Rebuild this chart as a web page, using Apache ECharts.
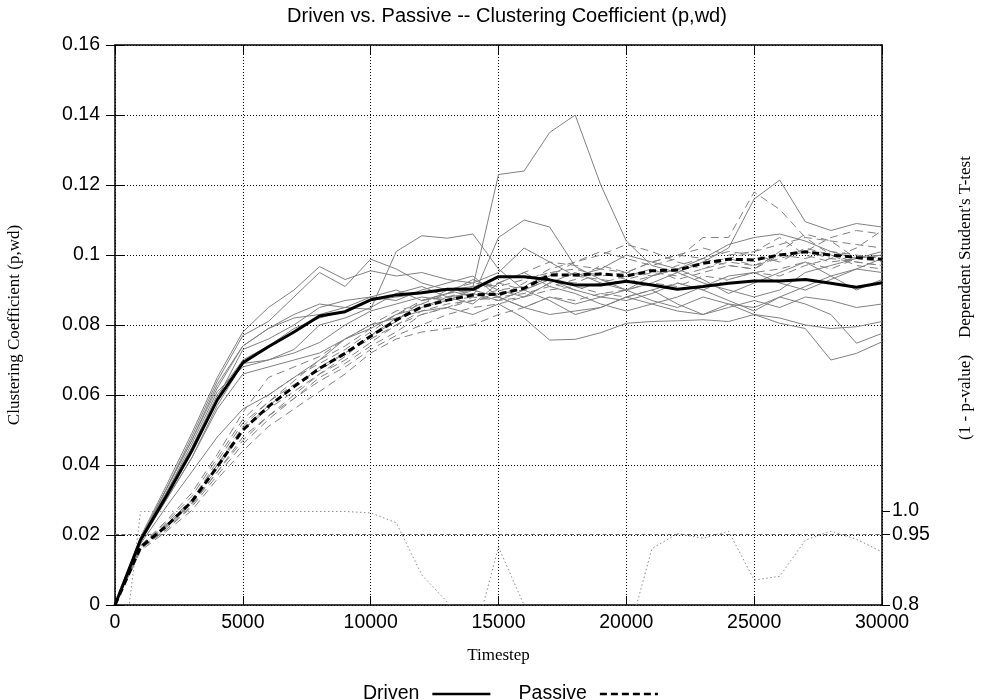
<!DOCTYPE html>
<html>
<head>
<meta charset="utf-8">
<script src="https://cdn.jsdelivr.net/npm/echarts@6/dist/echarts.min.js"></script>
<style>html,body{margin:0;padding:0;background:#fff;}#c{width:981px;height:700px;}</style>
</head>
<body>
<div id="c"></div>
<script>
const timesteps = [0,1000,2000,3000,4000,5000,6000,7000,8000,9000,10000,11000,12000,13000,14000,15000,16000,17000,18000,19000,20000,21000,22000,23000,24000,25000,26000,27000,28000,29000,30000];

const drivenMean  = [0,0.0186,0.0310,0.0440,0.0586,0.0692,0.0738,0.0780,0.0826,0.0838,0.0872,0.0886,0.0892,0.0902,0.0902,0.0938,0.0938,0.0929,0.0914,0.0914,0.0925,0.0914,0.0902,0.0910,0.0919,0.0926,0.0926,0.0930,0.0919,0.0908,0.0921];
const passiveMean = [0,0.0165,0.0225,0.0295,0.0395,0.0500,0.0567,0.0624,0.0676,0.0719,0.0768,0.0814,0.0852,0.0871,0.0886,0.0888,0.0905,0.0943,0.0943,0.0946,0.0940,0.0955,0.0957,0.0976,0.0988,0.0986,0.1000,0.1009,0.1000,0.0993,0.0988];
const pValue      = [0.55,0.999,0.999,0.999,0.999,0.999,0.999,0.999,0.999,0.999,0.996,0.975,0.864,0.806,0.72,0.923,0.80,0.60,0.45,0.50,0.72,0.92,0.952,0.942,0.957,0.853,0.861,0.938,0.957,0.940,0.913];
const threshold = 0.95;

const drivenRun1  = [0,0.0190,0.0320,0.0450,0.0600,0.0700,0.0740,0.0790,0.0820,0.0840,0.0870,0.0880,0.0890,0.0900,0.0910,0.1230,0.1240,0.1350,0.1400,0.1200,0.1040,0.0970,0.0950,0.0920,0.0900,0.0880,0.0900,0.0950,0.0970,0.0990,0.1010];
const drivenRun2  = [0,0.0190,0.0330,0.0470,0.0630,0.0740,0.0790,0.0830,0.0860,0.0850,0.0845,0.1010,0.1055,0.1048,0.1060,0.0960,0.0900,0.0870,0.0830,0.0850,0.0880,0.0860,0.0840,0.0830,0.0860,0.0850,0.0880,0.0910,0.0940,0.0900,0.0930];
const drivenRun3  = [0,0.0195,0.0340,0.0490,0.0650,0.0780,0.0850,0.0900,0.0967,0.0930,0.0955,0.0940,0.0950,0.0930,0.0920,0.0950,0.1020,0.0980,0.0940,0.0960,0.1000,0.0980,0.0960,0.0990,0.1030,0.1050,0.1060,0.1040,0.1010,0.0990,0.1000];
const drivenRun4  = [0,0.0190,0.0330,0.0480,0.0640,0.0770,0.0810,0.0880,0.0950,0.0910,0.0988,0.0960,0.0920,0.0900,0.0880,0.1050,0.1100,0.1080,0.0967,0.0930,0.0900,0.0920,0.0950,0.0980,0.1020,0.1160,0.1214,0.1095,0.1070,0.1090,0.1080];
const drivenRun5  = [0,0.0185,0.0310,0.0440,0.0590,0.0730,0.0760,0.0800,0.0850,0.0870,0.0880,0.0900,0.0870,0.0890,0.0930,0.0900,0.0880,0.0920,0.0950,0.0920,0.0900,0.0940,0.0960,0.0930,0.0890,0.0920,0.0950,0.0980,0.0940,0.0960,0.0950];
const drivenRun6  = [0,0.0185,0.0300,0.0420,0.0570,0.0690,0.0700,0.0720,0.0750,0.0800,0.0840,0.0860,0.0880,0.0870,0.0900,0.0880,0.0850,0.0880,0.0860,0.0880,0.0900,0.0870,0.0850,0.0880,0.0860,0.0830,0.0805,0.0790,0.0700,0.0719,0.0752];
const drivenRun7  = [0,0.0180,0.0300,0.0420,0.0560,0.0660,0.0680,0.0700,0.0720,0.0760,0.0800,0.0820,0.0840,0.0850,0.0830,0.0860,0.0820,0.0757,0.0759,0.0778,0.0805,0.0810,0.0812,0.0815,0.0810,0.0830,0.0820,0.0800,0.0790,0.0795,0.0810];
const drivenRun8  = [0,0.0175,0.0280,0.0380,0.0480,0.0560,0.0600,0.0650,0.0700,0.0760,0.0790,0.0830,0.0850,0.0880,0.0890,0.0870,0.0900,0.0930,0.0900,0.0880,0.0870,0.0890,0.0920,0.0900,0.0870,0.0840,0.0880,0.0860,0.0830,0.0748,0.0776];
const drivenRun9  = [0,0.0188,0.0320,0.0460,0.0610,0.0680,0.0700,0.0730,0.0800,0.0820,0.0850,0.0890,0.0910,0.0880,0.0860,0.0920,0.0950,0.0910,0.0890,0.0860,0.0840,0.0860,0.0880,0.0910,0.0940,0.0950,0.0920,0.0900,0.0930,0.0960,0.0990];
const drivenRun10 = [0,0.0190,0.0330,0.0470,0.0620,0.0740,0.0790,0.0820,0.0830,0.0850,0.0880,0.0870,0.0900,0.0920,0.0940,0.0880,0.0850,0.0830,0.0840,0.0850,0.0880,0.0900,0.0860,0.0830,0.0850,0.0870,0.0850,0.0880,0.0870,0.0850,0.0860];

const passiveRun1  = [0,0.0170,0.0240,0.0320,0.0430,0.0550,0.0650,0.0680,0.0710,0.0760,0.0800,0.0840,0.0860,0.0900,0.0920,0.0910,0.0930,0.0950,0.0960,0.0940,0.0950,0.0980,0.1000,0.1020,0.1000,0.1010,0.1030,0.1050,0.1040,0.1030,0.1020];
const passiveRun2  = [0,0.0165,0.0230,0.0300,0.0400,0.0510,0.0580,0.0640,0.0700,0.0740,0.0790,0.0830,0.0870,0.0880,0.0900,0.0880,0.0920,0.0960,0.0980,0.1010,0.0990,0.0970,0.0990,0.1050,0.1050,0.1180,0.1130,0.1050,0.1000,0.0980,0.0970];
const passiveRun3  = [0,0.0160,0.0220,0.0290,0.0380,0.0480,0.0540,0.0600,0.0660,0.0700,0.0750,0.0800,0.0840,0.0860,0.0870,0.0890,0.0900,0.0930,0.0920,0.0950,0.0930,0.0950,0.0940,0.0960,0.0980,0.0970,0.0990,0.1010,0.1050,0.1070,0.1060];
const passiveRun4  = [0,0.0160,0.0215,0.0280,0.0370,0.0460,0.0530,0.0590,0.0650,0.0690,0.0740,0.0780,0.0830,0.0850,0.0880,0.0870,0.0880,0.0920,0.0900,0.0920,0.0940,0.0960,0.0930,0.0950,0.0970,0.0960,0.1000,0.0990,0.1010,0.1000,0.0990];
const passiveRun5  = [0,0.0165,0.0225,0.0290,0.0390,0.0500,0.0560,0.0610,0.0660,0.0710,0.0770,0.0820,0.0850,0.0870,0.0880,0.0900,0.0910,0.0950,0.0940,0.0930,0.0920,0.0940,0.0960,0.0980,0.0990,0.0970,0.1000,0.1010,0.0990,0.0980,0.0970];
const passiveRun6  = [0,0.0155,0.0210,0.0270,0.0360,0.0440,0.0510,0.0560,0.0610,0.0660,0.0720,0.0760,0.0780,0.0790,0.0800,0.0830,0.0850,0.0880,0.0870,0.0890,0.0900,0.0920,0.0910,0.0940,0.0930,0.0950,0.0960,0.0980,0.0960,0.0990,0.1000];
const passiveRun7  = [0,0.0170,0.0235,0.0310,0.0420,0.0530,0.0600,0.0650,0.0690,0.0730,0.0780,0.0830,0.0860,0.0890,0.0910,0.0920,0.0900,0.0940,0.0980,0.1000,0.1030,0.1010,0.0980,0.0960,0.0990,0.1010,0.1050,0.1000,0.0980,0.0990,0.1000];
const passiveRun8  = [0,0.0160,0.0215,0.0285,0.0380,0.0470,0.0540,0.0590,0.0640,0.0680,0.0730,0.0770,0.0800,0.0830,0.0850,0.0860,0.0880,0.0900,0.0910,0.0890,0.0880,0.0900,0.0920,0.0900,0.0930,0.0950,0.0940,0.0970,0.0990,0.1020,0.1070];
const passiveRun9  = [0,0.0168,0.0230,0.0300,0.0410,0.0520,0.0580,0.0630,0.0670,0.0720,0.0770,0.0810,0.0870,0.0890,0.0900,0.0920,0.0950,0.0980,0.0970,0.0960,0.0950,0.0940,0.0970,0.0990,0.1010,0.1000,0.0980,0.1020,0.1000,0.0970,0.0960];
const passiveRun10 = [0,0.0165,0.0225,0.0295,0.0400,0.0500,0.0570,0.0620,0.0680,0.0720,0.0760,0.0800,0.0830,0.0850,0.0870,0.0880,0.0890,0.0910,0.0930,0.0970,0.0950,0.0980,0.1000,0.0990,0.0970,0.0960,0.1010,0.1060,0.1040,0.0990,0.0980];

const drivenRuns = [drivenRun1,drivenRun2,drivenRun3,drivenRun4,drivenRun5,drivenRun6,drivenRun7,drivenRun8,drivenRun9,drivenRun10];
const passiveRuns = [passiveRun1,passiveRun2,passiveRun3,passiveRun4,passiveRun5,passiveRun6,passiveRun7,passiveRun8,passiveRun9,passiveRun10];

const pLabelValues = [0.8, 0.95, 1.0];
const pLabelTexts = ['0.8', '0.95', '1.0'];

function pairs(arr){ return timesteps.map((t,i)=>[t,arr[i]]); }

const SANS = 'Liberation Sans, Arial, sans-serif';
const SERIF = 'Liberation Serif, Times New Roman, serif';

const series = [];
drivenRuns.forEach((r,k)=>series.push({
  name:'Driven run '+(k+1), type:'line', data:pairs(r), symbol:'none', silent:true,
  color:'#808080', lineStyle:{color:'#808080', width:1, type:'solid'}, z:2
}));
passiveRuns.forEach((r,k)=>series.push({
  name:'Passive run '+(k+1), type:'line', data:pairs(r), symbol:'none', silent:true,
  color:'#808080', lineStyle:{color:'#808080', width:1, type:[8,5]}, z:2
}));
series.push({
  name:'p-value', type:'line', yAxisIndex:1, data:pairs(pValue), symbol:'none', silent:true, clip:true,
  color:'#8a8a8a', lineStyle:{color:'#8a8a8a', width:1, type:[1.5,2.5]}, z:3,
  markLine:{silent:true, symbol:'none', label:{show:false},
    lineStyle:{color:'#6a6a6a', width:1, type:[4,2.5]},
    data:[{yAxis:threshold}]}
});
series.push({
  name:'Driven', type:'line', data:pairs(drivenMean), symbol:'none', color:'#000',
  lineStyle:{color:'#000', width:3, type:'solid'}, z:5
});
series.push({
  name:'Passive', type:'line', data:pairs(passiveMean), symbol:'none', color:'#000',
  lineStyle:{color:'#000', width:3, type:[7,4]}, z:5
});

const option = {
  animation:false,
  backgroundColor:'#fff',
  title:{
    text:'Driven vs. Passive -- Clustering Coefficient (p,wd)',
    left:502, top:1, textAlign:'center',
    textStyle:{fontFamily:SANS, fontSize:20, fontWeight:'normal', color:'#000'}
  },
  legend:{
    data:['Driven','Passive'], left:358, top:679, align:'right',
    itemWidth:58, itemHeight:12, itemGap:27,
    itemStyle:{color:'transparent', borderWidth:0},
    lineStyle:{width:2.5},
    textStyle:{fontFamily:SANS, fontSize:19.5, color:'#000', padding:[0,8,0,0]},
    selectedMode:false
  },
  grid:{left:115, right:99, top:45, bottom:95, outerBoundsMode:'none'},
  xAxis:[{
    type:'value', min:0, max:30000, interval:5000, position:'bottom',
    name:'Timestep', nameLocation:'middle', nameGap:42,
    nameTextStyle:{fontFamily:SERIF, fontSize:17, color:'#000', verticalAlign:'top'},
    axisLine:{show:true, onZero:false, lineStyle:{color:'#000', width:1.5}},
    axisTick:{show:true, inside:true, length:9, lineStyle:{color:'#000', width:1}},
    axisLabel:{fontFamily:SANS, fontSize:19.5, color:'#000', margin:8, formatter:v=>String(v)},
    splitLine:{show:true, lineStyle:{color:'#000', width:1, type:[1,2]}}
  },{
    type:'value', min:0, max:30000, interval:5000, position:'top',
    axisLine:{show:true, onZero:false, lineStyle:{color:'#000', width:1.5}},
    axisTick:{show:true, inside:true, length:9, lineStyle:{color:'#000', width:1}},
    axisLabel:{show:false}, splitLine:{show:false}
  }],
  yAxis:[{
    type:'value', min:0, max:0.16, interval:0.02, position:'left',
    name:'Clustering Coefficient (p,wd)', nameLocation:'middle', nameGap:92, nameRotate:90,
    nameTextStyle:{fontFamily:SERIF, fontSize:17, color:'#000'},
    axisLine:{show:true, onZero:false, lineStyle:{color:'#000', width:1.5}},
    axisTick:{show:true, inside:true, length:9, lineStyle:{color:'#000', width:1}},
    axisLabel:{fontFamily:SANS, fontSize:19.5, color:'#000', margin:15,
      formatter:v=>String(Math.round(v*100)/100)},
    splitLine:{show:true, lineStyle:{color:'#000', width:1, type:[1,2]}}
  },{
    type:'value', min:0.8, max:1.9915, position:'right',
    axisLine:{show:true, onZero:false, lineStyle:{color:'#000', width:1.5}},
    axisTick:{show:true, inside:false, length:8, customValues:pLabelValues, lineStyle:{color:'#000', width:1}},
    axisLabel:{fontFamily:SANS, fontSize:19.5, color:'#000', margin:10, customValues:pLabelValues,
      formatter:v=>pLabelTexts[pLabelValues.findIndex(x=>Math.abs(x-v)<1e-6)] || ''},
    splitLine:{show:false}
  },{
    type:'value', min:0, max:0.16, interval:0.02, position:'right',
    axisLine:{show:false},
    axisTick:{show:true, inside:true, length:9, lineStyle:{color:'#000', width:1}},
    axisLabel:{show:false}, splitLine:{show:false}
  }],
  graphic:[{
    type:'text', x:966, y:298, rotation:Math.PI/2,
    style:{text:"(1 - p-value)    Dependent Student's T-test", font:'17px '+SERIF, fill:'#000',
      textAlign:'center', textVerticalAlign:'middle'}
  }],
  series:series
};

const chart = echarts.init(document.getElementById('c'), null, {renderer:'canvas'});
chart.setOption(option);
</script>
</body>
</html>
